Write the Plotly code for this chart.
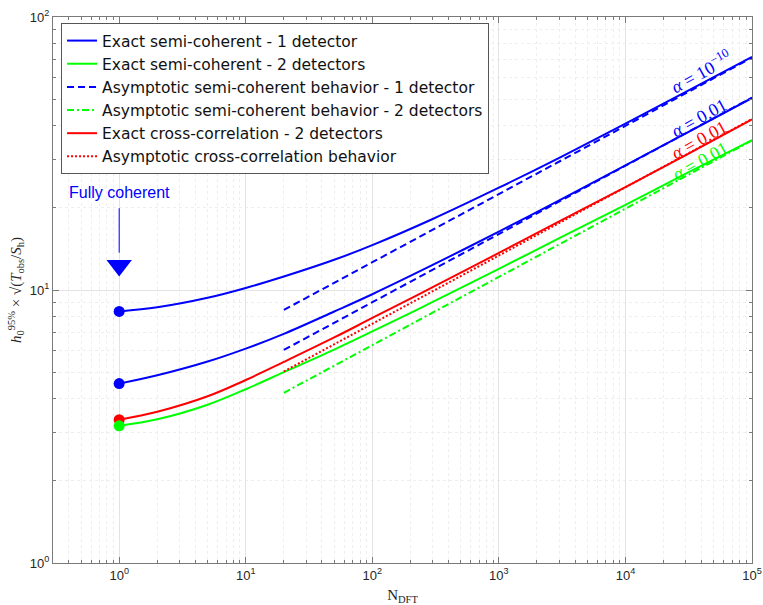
import plotly.graph_objects as go
import numpy as np

# ---------------- data ----------------
N_EXACT = [1, 2, 5, 10, 20, 50, 100, 300, 1000, 3000, 10000, 30000, 100000]
SC1_A1E10 = [8.35, 8.64, 9.36, 10.17, 11.2, 12.9, 14.6, 18.2, 23.7, 30.5, 40.7, 53.2, 71.4]
SC1_A001 = [4.54, 4.87, 5.47, 6.10, 6.91, 8.34, 9.65, 12.35, 16.37, 21.3, 28.6, 37.5, 50.5]
SC2_A001 = [3.18, 3.36, 3.8, 4.33, 5.0, 6.05, 7.05, 9.04, 11.95, 15.49, 20.5, 26.7, 35.4]
CC2_A001 = [3.35, 3.58, 4.08, 4.68, 5.45, 6.7, 7.9, 10.24, 13.67, 17.85, 23.83, 31.2, 42.2]

N_ASYM = [20, 100000]
ASYM_SC1_A1E10 = [8.45, 71.0]
ASYM_SC1_A001 = [6.03, 50.7]
ASYM_SC2_A001 = [4.2, 35.3]
ASYM_CC2_A001 = [5.03, 42.3]

FULLY_COHERENT_N = 1
ARROW_HEAD_Y = 12.3      # centre of the arrow head (data units)
ARROW_LINE_Y = 13.7      # where the arrow line meets the head

X_TICKS = [1, 10, 100, 1000, 10000, 100000]
X_TICKTEXT = ["10<sup>0</sup>", "10<sup>1</sup>", "10<sup>2</sup>", "10<sup>3</sup>", "10<sup>4</sup>", "10<sup>5</sup>"]
Y_TICKS = [1, 10, 100]
Y_TICKTEXT = ["10<sup>0</sup>", "10<sup>1</sup>", "10<sup>2</sup>"]

BLUE, GREEN, RED = "#0000ff", "#00ff00", "#ff0000"

fig = go.Figure()

def line(x, y, color, name, dash="solid", show=True):
    fig.add_trace(go.Scatter(x=x, y=y, mode="lines", name=name, showlegend=show,
                             line=dict(color=color, width=2, dash=dash, shape="spline", smoothing=1.0)))

line(N_EXACT, SC1_A1E10, BLUE, "Exact semi-coherent - 1 detector")
line(N_EXACT, SC2_A001, GREEN, "Exact semi-coherent - 2 detectors")
line(N_ASYM, ASYM_SC1_A1E10, BLUE, "Asymptotic semi-coherent behavior - 1 detector", dash="7px,4px")
line(N_ASYM, ASYM_SC2_A001, GREEN, "Asymptotic semi-coherent behavior - 2 detectors", dash="7px,3px,2px,3px")
line(N_EXACT, CC2_A001, RED, "Exact cross-correlation - 2 detectors")
line(N_ASYM, ASYM_CC2_A001, RED, "Asymptotic cross-correlation behavior", dash="2px,2px")
line(N_EXACT, SC1_A001, BLUE, "", show=False)
line(N_ASYM, ASYM_SC1_A001, BLUE, "", dash="7px,4px", show=False)

# fully coherent points
for vals, col in [(SC1_A1E10, BLUE), (SC1_A001, BLUE), (CC2_A001, RED), (SC2_A001, GREEN)]:
    fig.add_trace(go.Scatter(x=[N_EXACT[0]], y=[vals[0]], mode="markers", showlegend=False,
                             marker=dict(color=col, size=11, line=dict(width=0))))

# arrow head
fig.add_trace(go.Scatter(x=[FULLY_COHERENT_N], y=[ARROW_HEAD_Y], mode="markers", showlegend=False,
                         marker=dict(symbol="triangle-down", color=BLUE, size=22, line=dict(width=0))))

annos = [
    dict(x=np.log10(FULLY_COHERENT_N), y=np.log10(ARROW_LINE_Y), xref="x", yref="y", text="",
         showarrow=True, arrowhead=0, arrowwidth=1, arrowcolor=BLUE, ax=0, ay=-46),
    dict(x=np.log10(FULLY_COHERENT_N), y=1.356, xref="x", yref="y", text="Fully coherent",
         showarrow=False, font=dict(family="Liberation Sans, Arial", size=16, color=BLUE)),
]
serif = "Liberation Serif, Times New Roman, serif"
for txt, xx, yy, col in [("<i>α</i> = 10<sup>−10</sup>", 4.60, 1.80, BLUE),
                         ("<i>α</i> = 0.01", 4.58, 1.631, BLUE),
                         ("<i>α</i> = 0.01", 4.58, 1.551, RED),
                         ("<i>α</i> = 0.01", 4.59, 1.474, GREEN)]:
    annos.append(dict(x=xx, y=yy, xref="x", yref="y", text=txt, showarrow=False, textangle=-29,
                      font=dict(family=serif, size=18, color=col)))

axis_common = dict(type="log", showline=True, linecolor="#7a7a7a", linewidth=1, mirror="allticks",
                   ticks="inside", ticklen=6, tickcolor="#7a7a7a", showgrid=True, gridcolor="#e3e3e3",
                   gridwidth=1, zeroline=False, automargin=False,
                   tickfont=dict(family="Liberation Sans, Arial", size=13, color="#262626"))

minor_x = [m * 10 ** d for d in range(-1, 5) for m in range(2, 10) if 0.3 <= m * 10 ** d <= 1e5]
minor_y = [m * 10 ** d for d in range(0, 2) for m in range(2, 10)]

fig.update_xaxes(**axis_common, range=[np.log10(0.3), 5], tickmode="array", tickvals=X_TICKS,
                 ticktext=X_TICKTEXT,
                 minor=dict(tickmode="array", tickvals=minor_x, ticks="inside", ticklen=3,
                            tickcolor="#7a7a7a", showgrid=True, gridcolor="#eeeeee", griddash="dot"),
                 title=dict(text="N<sub>DFT</sub>", font=dict(family=serif, size=15, color="#262626"),
                            standoff=8))
fig.update_yaxes(**axis_common, range=[0, 2], tickmode="array", tickvals=Y_TICKS, ticktext=Y_TICKTEXT,
                 minor=dict(tickmode="array", tickvals=minor_y, ticks="inside", ticklen=3,
                            tickcolor="#7a7a7a", showgrid=True, gridcolor="#eeeeee", griddash="dot"),
                 title=dict(text="<i>h</i><sub>0</sub><sup>95%</sup> × √(<i>T</i><sub>obs</sub>/<i>S</i><sub>h</sub>)",
                            font=dict(family=serif, size=15, color="#262626"), standoff=4))

fig.update_layout(
    width=763, height=605,
    margin=dict(l=53, r=11, t=17, b=42),
    paper_bgcolor="white", plot_bgcolor="white",
    showlegend=True,
    legend=dict(x=0.0115, y=0.989, xanchor="left", yanchor="top", bgcolor="white",
                bordercolor="#555555", borderwidth=1, itemwidth=30,
                font=dict(family="DejaVu Sans, Liberation Sans, Arial", size=15.5, color="#111111"),
                tracegroupgap=0),
    annotations=annos,
)

fig.write_html("out.html")
